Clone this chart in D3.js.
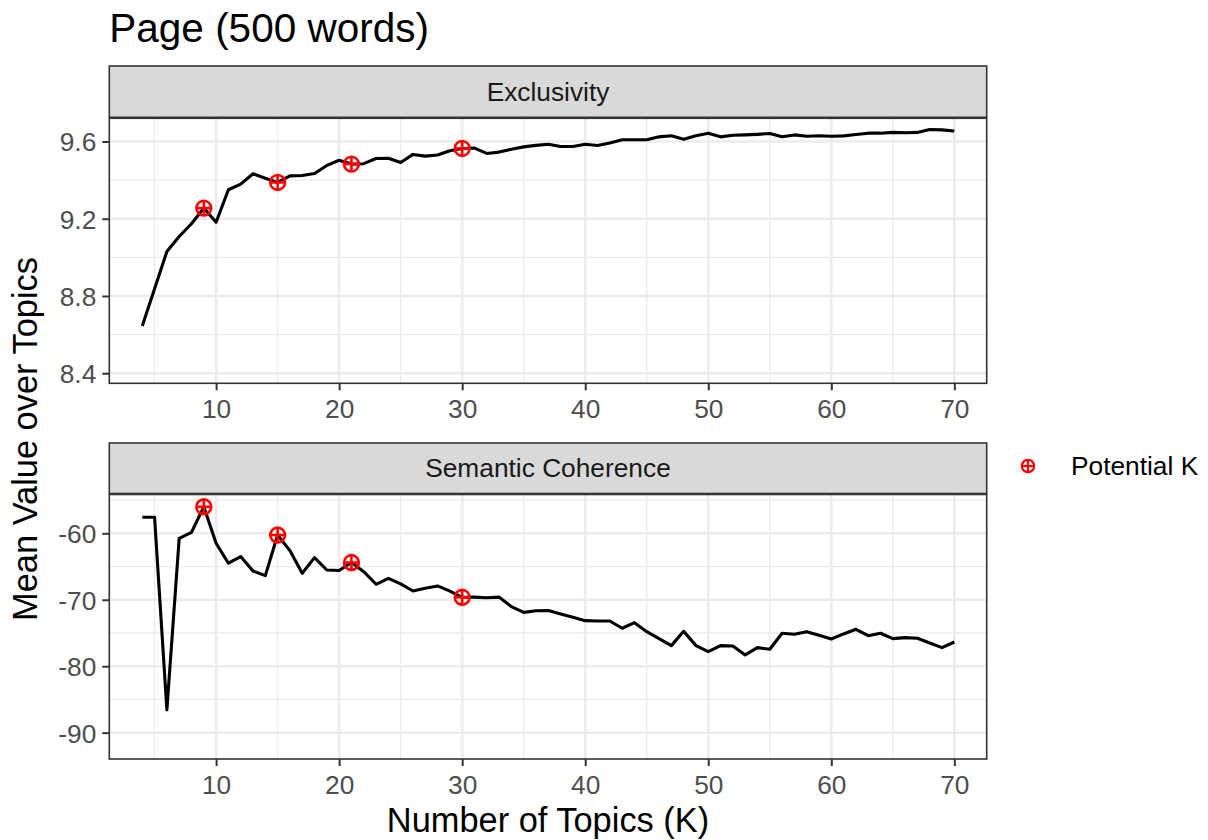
<!DOCTYPE html>
<html>
<head>
<meta charset="utf-8">
<script src="https://cdn.jsdelivr.net/npm/d3@7"></script>
<style>
  html, body { margin: 0; padding: 0; background: #fff; }
  svg { display: block; font-family: "Liberation Sans", Arial, Helvetica, sans-serif; }
</style>
</head>
<body>
<svg id="chart" width="1208" height="840"></svg>
<script>
// ---------------- data ----------------
const topicsK = [4,5,6,7,8,9,10,11,12,13,14,15,16,17,18,19,20,21,22,23,24,25,26,27,28,29,30,31,32,33,34,35,36,37,38,39,40,41,42,43,44,45,46,47,48,49,50,51,52,53,54,55,56,57,58,59,60,61,62,63,64,65,66,67,68,69,70];
const exclusivity = [8.645,8.838,9.03,9.108,9.174,9.255,9.182,9.35,9.379,9.433,9.41,9.388,9.422,9.424,9.434,9.476,9.503,9.483,9.485,9.512,9.513,9.491,9.533,9.524,9.53,9.552,9.564,9.566,9.538,9.545,9.56,9.572,9.58,9.586,9.574,9.574,9.586,9.579,9.592,9.609,9.609,9.609,9.624,9.63,9.612,9.63,9.643,9.624,9.632,9.634,9.637,9.641,9.624,9.634,9.627,9.63,9.627,9.629,9.636,9.643,9.643,9.647,9.645,9.647,9.662,9.66,9.654];
const semanticCoherence = [-57.59,-57.59,-86.57,-60.75,-59.85,-56.0,-61.5,-64.5,-63.5,-65.67,-66.37,-60.26,-62.6,-66.0,-63.66,-65.52,-65.6,-64.4,-65.77,-67.67,-66.77,-67.6,-68.68,-68.27,-67.92,-68.7,-69.63,-69.6,-69.7,-69.6,-71.03,-71.9,-71.65,-71.63,-72.13,-72.63,-73.14,-73.2,-73.2,-74.29,-73.44,-74.8,-75.85,-76.9,-74.74,-76.9,-77.8,-76.9,-76.95,-78.3,-77.2,-77.45,-75.04,-75.2,-74.8,-75.34,-75.9,-75.14,-74.44,-75.4,-75.04,-75.85,-75.7,-75.8,-76.5,-77.2,-76.35];
const potentialK = [9, 15, 21, 30];
const xTicks = [10, 20, 30, 40, 50, 60, 70];
const xMinor = [5, 15, 25, 35, 45, 55, 65];
const exclTicks = [8.4, 8.8, 9.2, 9.6];
const exclMinor = [8.6, 9.0, 9.4];
const semTicks = [-90, -80, -70, -60];
const semMinor = [-85, -75, -65, -55];
const xDomain = [1.32, 72.63];
const exclDomain = [8.348, 9.72];
const semDomain = [-93.96, -54.16];
const titleText = "Page (500 words)";
const xTitle = "Number of Topics (K)";
const yTitle = "Mean Value over Topics";
const legendLabel = "Potential K";

// ---------------- layout ----------------
const svg = d3.select("#chart");
const L = 109.3, R = 986.7;
const panels = [
  { name: "Exclusivity", values: exclusivity, domain: exclDomain, ticks: exclTicks, minor: exclMinor,
    stripTop: 66, stripBot: 117.3, top: 118.3, bot: 383.3, fmt: d => d.toFixed(1) },
  { name: "Semantic Coherence", values: semanticCoherence, domain: semDomain, ticks: semTicks, minor: semMinor,
    stripTop: 443, stripBot: 493.5, top: 494.5, bot: 759, fmt: d => String(d) }
];
const x = d3.scaleLinear().domain(xDomain).range([L, R]);
const tickFont = 26.3;
const tickColor = "#4D4D4D";
const dark = "#333333";
const grid = "#EBEBEB";

function plusCircle(g, cx, cy, r, sw) {
  g.append("circle").attr("cx", cx).attr("cy", cy).attr("r", r)
    .attr("fill", "none").attr("stroke", "#FF0000").attr("stroke-width", sw);
  g.append("line").attr("x1", cx - r).attr("x2", cx + r).attr("y1", cy).attr("y2", cy)
    .attr("stroke", "#FF0000").attr("stroke-width", sw);
  g.append("line").attr("x1", cx).attr("x2", cx).attr("y1", cy - r).attr("y2", cy + r)
    .attr("stroke", "#FF0000").attr("stroke-width", sw);
}

panels.forEach(p => {
  const y = d3.scaleLinear().domain(p.domain).range([p.bot, p.top]);
  const g = svg.append("g");
  g.append("rect").attr("x", L).attr("y", p.top).attr("width", R - L).attr("height", p.bot - p.top).attr("fill", "#fff");
  // minor grid
  g.selectAll(".mx").data(xMinor).join("line")
    .attr("x1", d => x(d)).attr("x2", d => x(d)).attr("y1", p.top).attr("y2", p.bot)
    .attr("stroke", grid).attr("stroke-width", 1.3);
  g.selectAll(".my").data(p.minor).join("line")
    .attr("x1", L).attr("x2", R).attr("y1", d => y(d)).attr("y2", d => y(d))
    .attr("stroke", grid).attr("stroke-width", 1.3);
  // major grid
  g.selectAll(".Mx").data(xTicks).join("line")
    .attr("x1", d => x(d)).attr("x2", d => x(d)).attr("y1", p.top).attr("y2", p.bot)
    .attr("stroke", grid).attr("stroke-width", 2.6);
  g.selectAll(".My").data(p.ticks).join("line")
    .attr("x1", L).attr("x2", R).attr("y1", d => y(d)).attr("y2", d => y(d))
    .attr("stroke", grid).attr("stroke-width", 2.6);

  // line
  const line = d3.line().x((d, i) => x(topicsK[i])).y(d => y(d));
  g.append("path").datum(p.values).attr("d", line)
    .attr("fill", "none").attr("stroke", "#000").attr("stroke-width", 3.1).attr("stroke-linejoin", "round");

  // potential K points
  potentialK.forEach(k => {
    const i = topicsK.indexOf(k);
    plusCircle(g, x(k), y(p.values[i]), 7.4, 2.6);
  });

  // panel border
  g.append("rect").attr("x", L).attr("y", p.top).attr("width", R - L).attr("height", p.bot - p.top)
    .attr("fill", "none").attr("stroke", dark).attr("stroke-width", 1.6);

  // strip
  g.append("rect").attr("x", L).attr("y", p.stripTop).attr("width", R - L).attr("height", p.stripBot - p.stripTop)
    .attr("fill", "#D9D9D9").attr("stroke", dark).attr("stroke-width", 1.6);
  g.append("text").attr("x", (L + R) / 2).attr("y", (p.stripTop + p.stripBot) / 2)
    .attr("dy", "0.35em").attr("text-anchor", "middle").attr("font-size", tickFont).attr("fill", "#1A1A1A")
    .text(p.name);

  // y axis
  const ya = g.append("g").attr("transform", `translate(${L},0)`)
    .call(d3.axisLeft(y).tickValues(p.ticks).tickFormat(p.fmt).tickSize(7).tickPadding(6));
  ya.select(".domain").remove();
  ya.selectAll(".tick line").attr("stroke", dark).attr("stroke-width", 2);
  ya.selectAll(".tick text").attr("font-size", tickFont).attr("fill", tickColor)
    .attr("font-family", "Liberation Sans, Arial, sans-serif").attr("dy", "0.36em");

  // x axis
  const xa = g.append("g").attr("transform", `translate(0,${p.bot})`)
    .call(d3.axisBottom(x).tickValues(xTicks).tickFormat(d => String(d)).tickSize(7).tickPadding(9));
  xa.select(".domain").remove();
  xa.selectAll(".tick line").attr("stroke", dark).attr("stroke-width", 2);
  xa.selectAll(".tick text").attr("font-size", tickFont).attr("fill", tickColor)
    .attr("font-family", "Liberation Sans, Arial, sans-serif");
});

// title
svg.append("text").attr("x", L).attr("y", 42).attr("font-size", 40.5).attr("fill", "#000").text(titleText);
// x title
svg.append("text").attr("x", (L + R) / 2).attr("y", 832).attr("text-anchor", "middle")
  .attr("font-size", 34.4).attr("fill", "#000").text(xTitle);
// y title
svg.append("text").attr("transform", `translate(37,439) rotate(-90)`).attr("text-anchor", "middle")
  .attr("font-size", 34.4).attr("fill", "#000").text(yTitle);

// legend
const lg = svg.append("g");
plusCircle(lg, 1028, 466, 6.2, 2.2);
lg.append("text").attr("x", 1071).attr("y", 466).attr("dy", "0.35em").attr("font-size", tickFont)
  .attr("fill", "#000").text(legendLabel);
</script>
</body>
</html>
